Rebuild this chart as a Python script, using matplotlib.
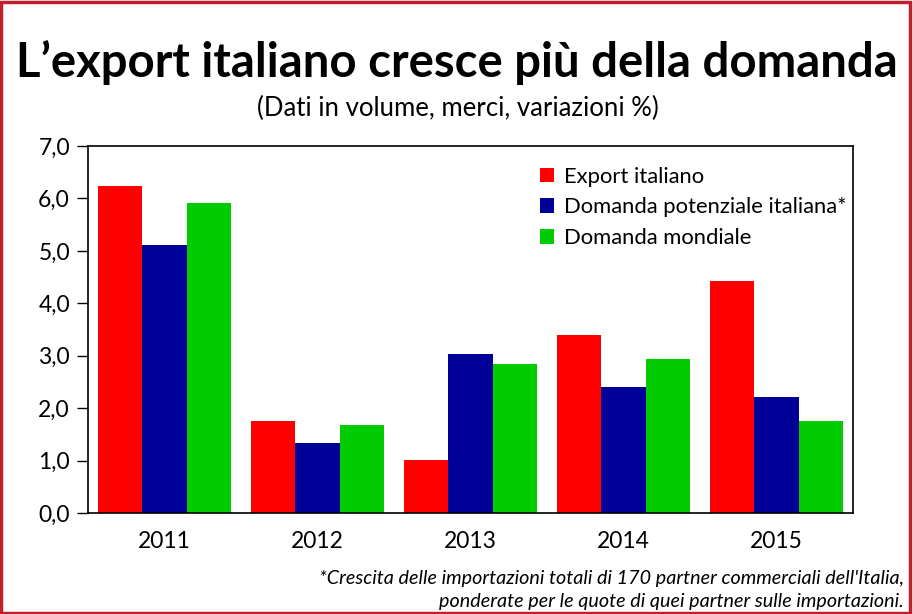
import matplotlib.pyplot as plt
import numpy as np
from matplotlib.patches import Rectangle

years = ['2011', '2012', '2013', '2014', '2015']
export_it = [6.24, 1.75, 1.01, 3.40, 4.42]
domanda_pot = [5.11, 1.34, 3.03, 2.40, 2.21]
domanda_mond = [5.91, 1.68, 2.84, 2.94, 1.75]
series_names = ['Export italiano', 'Domanda potenziale italiana*', 'Domanda mondiale']
colors = ['#ff0000', '#000099', '#00cc00']
yticks = [0, 1, 2, 3, 4, 5, 6, 7]

plt.rcParams['font.family'] = ['Lato', 'DejaVu Sans']

fig = plt.figure(figsize=(9.13, 6.14), dpi=100)
ax = fig.add_axes([0.0964, 0.1645, 0.8379, 0.5977])

x = np.arange(len(years))
width = 0.29
for i, (vals, name, c) in enumerate(zip([export_it, domanda_pot, domanda_mond], series_names, colors)):
    ax.bar(x + (i - 1) * width, vals, width, color=c, label=name)

ax.set_xlim(-0.5, len(years) - 0.5)
ax.set_ylim(0, 7)
ax.set_yticks(yticks)
ax.set_yticklabels([f"{v:.1f}".replace('.', ',') for v in yticks], fontsize=16.5)
ax.set_xticks(x)
ax.set_xticklabels(years, fontsize=16.5)
ax.tick_params(axis='x', length=0, pad=13)
ax.tick_params(axis='y', length=8, width=1, direction='out', pad=5)
for s in ax.spines.values():
    s.set_linewidth(1.2)

leg = ax.legend(loc='upper left', bbox_to_anchor=(0.565, 0.997), frameon=False,
                fontsize=15.8, handlelength=0.65, handleheight=0.65, handletextpad=0.45,
                labelspacing=0.48)

fig.text(0.5, 0.898, "L\u2019export italiano cresce più della domanda",
         ha='center', va='center', fontsize=34, fontweight='bold')
fig.text(0.501, 0.823, "(Dati in volume, merci, variazioni %)",
         ha='center', va='center', fontsize=18.5)
fig.text(0.99, 0.058, "*Crescita delle importazioni totali di 170 partner commerciali dell'Italia,",
         ha='right', va='center', fontsize=14.2, style='italic')
fig.text(0.99, 0.021, "ponderate per le quote di quei partner sulle importazioni.",
         ha='right', va='center', fontsize=14.2, style='italic')

fig.patches.append(Rectangle((0.001, 0.002), 0.996, 0.994, transform=fig.transFigure,
                             fill=False, edgecolor='#c0202a', linewidth=2.5))

fig.savefig('out.png', dpi=100)
